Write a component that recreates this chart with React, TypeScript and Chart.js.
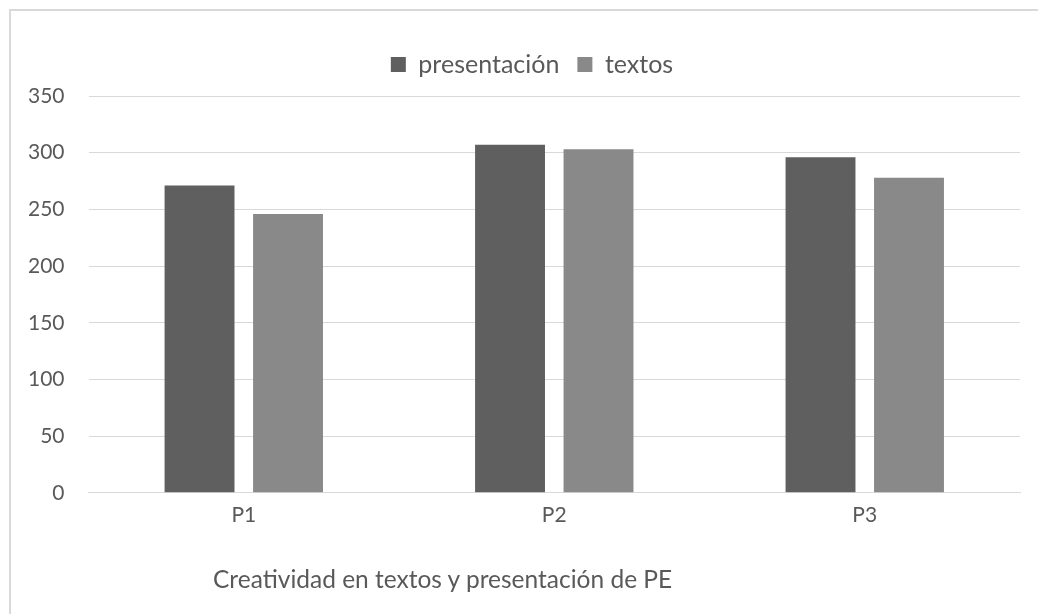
import React, { useEffect, useRef } from "react";
import { Chart, registerables } from "chart.js";

Chart.register(...registerables);

const categories = ["P1", "P2", "P3"];
const presentacion = [271, 307, 296];
const textos = [246, 303, 278];
const seriesNames = ["presentación", "textos"];
const chartTitle = "Creatividad en textos y presentación de PE";

const FONT = "Lato, 'Open Sans', sans-serif";
const TEXT = "#595959";

const legendTweak = {
  id: "legendTweak",
  beforeInit(chart: any) {
    const lg = chart.legend;
    if (!lg) return;
    const fit = lg.fit;
    lg.fit = function () {
      fit.call(this);
      this.height += 9;
    };
  },
  afterLayout(chart: any) {
    const lg = chart.legend;
    if (!lg) return;
    lg.left += 20;
    lg.right += 20;
  },
};

export default function App() {
  const ref = useRef<HTMLCanvasElement | null>(null);

  useEffect(() => {
    if (!ref.current) return;
    const chart = new Chart(ref.current, {
      type: "bar",
      data: {
        labels: categories,
        datasets: [
          {
            label: seriesNames[0],
            data: presentacion,
            backgroundColor: "#5f5f5f",
            barPercentage: 0.79,
            categoryPercentage: 0.57,
          },
          {
            label: seriesNames[1],
            data: textos,
            backgroundColor: "#898989",
            barPercentage: 0.79,
            categoryPercentage: 0.57,
          },
        ],
      },
      plugins: [legendTweak],
      options: {
        animation: false,
        responsive: false,
        maintainAspectRatio: false,
        layout: { padding: { left: 4, right: 18, top: 34, bottom: 76 } },
        plugins: {
          tooltip: { enabled: false },
          title: { display: false },
          legend: {
            display: true,
            position: "top",
            labels: {
              color: TEXT,
              font: { family: FONT, size: 25 },
              boxWidth: 15,
              boxHeight: 15,
              padding: 18,
            },
          },
        },
        scales: {
          x: {
            grid: { display: false, drawTicks: false },
            border: { display: true, color: "#d9d9d9", width: 1 },
            ticks: { color: TEXT, font: { family: FONT, size: 21 }, padding: 10 },
          },
          y: {
            min: 0,
            max: 350,
            grid: { color: "#d9d9d9", lineWidth: 1, drawTicks: false },
            border: { display: false },
            ticks: {
              stepSize: 50,
              color: TEXT,
              font: { family: FONT, size: 21 },
              padding: 24,
            },
          },
        },
      },
    });
    return () => chart.destroy();
  }, []);

  return (
    <div style={{ position: "fixed", left: 0, top: 0, width: 1038, height: 614, overflow: "hidden", background: "#fff" }}>
      <div
        style={{
          position: "absolute",
          left: 9,
          top: 9,
          width: 1060,
          height: 640,
          border: "2px solid #d9d9d9",
          boxSizing: "border-box",
        }}
      />
      <canvas ref={ref} width={1038} height={614} style={{ position: "absolute", left: 0, top: 0 }} />
      <div
        style={{
          position: "absolute",
          left: 213,
          top: 564,
          fontFamily: FONT,
          fontSize: 24.5,
          color: TEXT,
          whiteSpace: "nowrap",
        }}
      >
        {chartTitle}
      </div>
    </div>
  );
}
